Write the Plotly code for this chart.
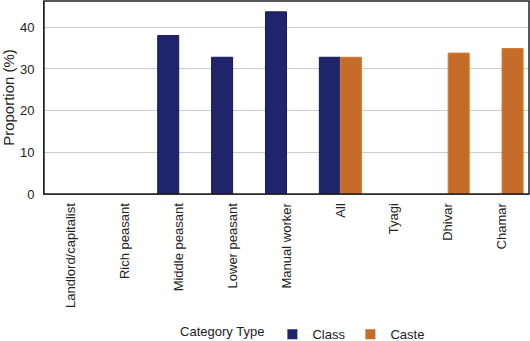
import plotly.graph_objects as go

categories = ["Landlord/capitalist", "Rich peasant", "Middle peasant", "Lower peasant",
              "Manual worker", "All", "Tyagi", "Dhivar", "Chamar"]
class_values = [0, 0, 38.0, 32.8, 43.7, 32.8, None, None, None]
caste_values = [None, None, None, None, None, 32.8, 0, 33.8, 34.9]

NAVY = "#1f246b"
ORANGE = "#c56c2a"
FONT = "Liberation Sans, Arial, sans-serif"


def line_widths(vals):
    return [1 if (v is not None and v > 0) else 0 for v in vals]


fig = go.Figure()
fig.add_trace(go.Bar(x=categories, y=class_values, name="Class", showlegend=False,
                     marker=dict(color=NAVY, line=dict(color="#151a55",
                                                        width=line_widths(class_values)))))
fig.add_trace(go.Bar(x=categories, y=caste_values, name="Caste", showlegend=False,
                     marker=dict(color=ORANGE, line=dict(color="#d8782f",
                                                          width=line_widths(caste_values)))))
# legend entries with small square swatches
fig.add_trace(go.Scatter(x=[None], y=[None], mode="markers", name="Class",
                         marker=dict(symbol="square", size=10, color=NAVY)))
fig.add_trace(go.Scatter(x=[None], y=[None], mode="markers", name="Caste",
                         marker=dict(symbol="square", size=10, color=ORANGE)))

fig.update_layout(
    width=530, height=341,
    margin=dict(l=44, r=1, t=1, b=147, autoexpand=False),
    paper_bgcolor="white", plot_bgcolor="white",
    barmode="group", bargap=0.22, bargroupgap=0,
    font=dict(family=FONT, size=13, color="#222"),
    showlegend=True,
    legend=dict(orientation="h", xref="container", x=0.336, xanchor="left",
                yref="container", y=0.02, yanchor="middle",
                title=dict(text="Category Type", side="left", font=dict(family=FONT, size=13)),
                font=dict(family=FONT, size=13), itemwidth=30, traceorder="normal"),
    xaxis=dict(tickangle=-90, showline=True, linecolor="#555", linewidth=1,
               automargin=False, ticks="outside", ticklen=3, tickcolor="rgba(0,0,0,0)",
               tickfont=dict(family=FONT, size=13)),
    yaxis=dict(range=[0, 46.3], tickvals=[0, 10, 20, 30, 40], showgrid=True,
               gridcolor="#cccccc", gridwidth=1, showline=True, linecolor="#333",
               linewidth=1, ticks="outside", ticklen=6, tickcolor="rgba(0,0,0,0)",
               zeroline=False, tickfont=dict(family=FONT, size=13), automargin=False,
               title=dict(text="Proportion (%)", font=dict(family=FONT, size=15), standoff=8)),
    shapes=[dict(type="rect", xref="paper", yref="paper", x0=0, x1=1, y0=0, y1=1,
                 line=dict(color="#222", width=1.5), fillcolor="rgba(0,0,0,0)")],
)

fig.write_html("out.html")
